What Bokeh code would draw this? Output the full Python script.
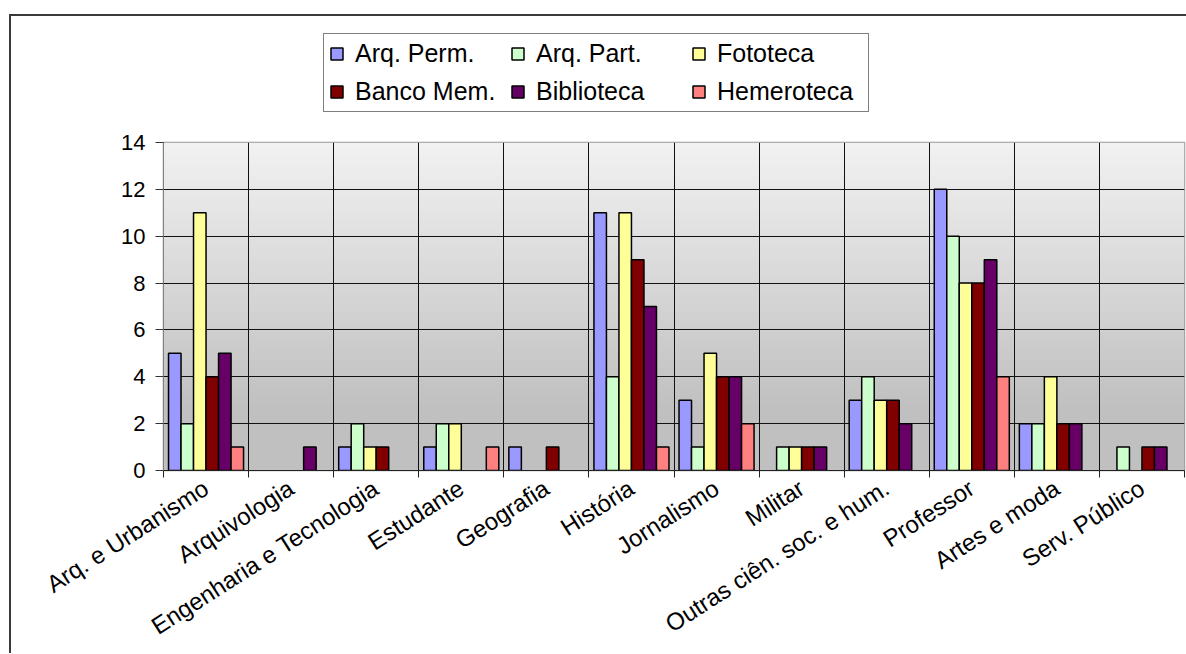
import numpy as np
from bokeh.plotting import figure
from bokeh.layouts import column
from bokeh.models import FixedTicker, Legend, LegendItem, Range1d, ColumnDataSource
from bokeh.embed import file_html
from bokeh.resources import INLINE

categories = ["Arq. e Urbanismo", "Arquivologia", "Engenharia e Tecnologia", "Estudante",
              "Geografia", "História", "Jornalismo", "Militar", "Outras ciên. soc. e hum.",
              "Professor", "Artes e moda", "Serv. Público"]
series_names = ["Arq. Perm.", "Arq. Part.", "Fototeca", "Banco Mem.", "Biblioteca", "Hemeroteca"]
arq_perm = [5, 0, 1, 1, 1, 11, 3, 0, 3, 12, 2, 0]
arq_part = [2, 0, 2, 2, 0, 4, 1, 1, 4, 10, 2, 1]
fototeca = [11, 0, 1, 2, 0, 11, 5, 1, 3, 8, 4, 0]
banco_mem = [4, 0, 1, 0, 1, 9, 4, 1, 3, 8, 2, 1]
biblioteca = [5, 1, 0, 0, 0, 7, 4, 1, 2, 9, 2, 1]
hemeroteca = [1, 0, 0, 1, 0, 1, 2, 0, 0, 4, 0, 0]
series_values = [arq_perm, arq_part, fototeca, banco_mem, biblioteca, hemeroteca]
colors = ["#9999ff", "#ccffcc", "#ffff99", "#800000", "#660066", "#ff8080"]
y_ticks = [0, 2, 4, 6, 8, 10, 12, 14]

FONT = "Liberation Sans"
ncat = len(categories)
ymax = y_ticks[-1]
bw = 0.147

# ---------- legend strip (top of chart) ----------
pl = figure(width=1175, height=110, output_backend="svg", toolbar_location=None,
            x_range=Range1d(0, 1), y_range=Range1d(0, 1),
            min_border_left=0, min_border_right=0, min_border_top=0, min_border_bottom=0)
pl.axis.visible = False
pl.grid.visible = False
pl.outline_line_color = None
pl.background_fill_color = "white"
pl.border_fill_color = "white"

items = []
for name, col in zip(series_names, colors):
    # legend swatch only: a single undrawn (NaN) bar carrying the series style
    rl = pl.vbar(x=[np.nan], top=[np.nan], width=bw, fill_color=col,
                 line_color="black", line_width=1.5)
    items.append(LegendItem(label=name, renderers=[rl]))

legend = Legend(items=items, orientation="horizontal", ncols=3, location=(160, 14),
                label_text_font=FONT, label_text_font_size="25px", label_text_color="black",
                glyph_width=15, glyph_height=15, label_standoff=11, label_width=146,
                label_height=28, spacing=9, padding=5, margin=0,
                border_line_color="black", border_line_width=1,
                background_fill_color="white", background_fill_alpha=1.0)
pl.add_layout(legend, "center")

# ---------- main chart ----------
p = figure(width=1175, height=527, output_backend="svg", toolbar_location=None,
           x_range=Range1d(0, ncat), y_range=Range1d(0, ymax),
           min_border_left=152, min_border_top=16, min_border_right=2, min_border_bottom=183)

n = 280
yy = np.linspace(0, ymax, n)
t = np.clip((yy - 2.5) / (ymax - 2.5), 0, 1)
g = (192 + t * (242 - 192)).astype(np.uint8)
img = np.empty((n, 1), dtype=np.uint32)
view = img.view(dtype=np.uint8).reshape((n, 1, 4))
view[..., 0] = g[:, None]
view[..., 1] = g[:, None]
view[..., 2] = g[:, None]
view[..., 3] = 255
p.image_rgba(image=[img], x=0, y=0, dw=ncat, dh=ymax, level="image")

for j, (name, vals, col) in enumerate(zip(series_names, series_values, colors)):
    xs = [i + 0.5 + (j - 2.5) * bw for i, v in enumerate(vals) if v > 0]
    tops = [v for v in vals if v > 0]
    src = ColumnDataSource(dict(x=xs, top=tops))
    p.vbar(x="x", top="top", bottom=0, width=bw, source=src,
           fill_color=col, line_color="black", line_width=1.5)

centers = [i + 0.5 for i in range(ncat)]
bounds = list(range(ncat + 1))
p.xaxis.ticker = FixedTicker(ticks=centers, minor_ticks=bounds)
p.xaxis.major_label_overrides = {c: lab for c, lab in zip(centers, categories)}
p.xaxis.major_label_orientation = 0.57
p.xaxis.major_tick_out = 0
p.xaxis.major_tick_in = 0
p.xaxis.minor_tick_out = 7
p.xaxis.minor_tick_in = 0
p.xaxis.minor_tick_line_color = "#222222"
p.xaxis.axis_line_color = "#222222"
p.xaxis.major_label_text_font = FONT
p.xaxis.major_label_text_font_size = "24px"
p.xaxis.major_label_text_color = "black"
p.xaxis.major_label_standoff = 8

p.yaxis.ticker = FixedTicker(ticks=y_ticks)
p.yaxis.major_tick_out = 8
p.yaxis.major_tick_in = 0
p.yaxis.minor_tick_line_color = None
p.yaxis.axis_line_color = "#808080"
p.yaxis.major_tick_line_color = "#333333"
p.yaxis.major_label_text_font = FONT
p.yaxis.major_label_text_font_size = "22px"
p.yaxis.major_label_text_color = "black"
p.yaxis.major_label_standoff = 10

p.xgrid.ticker = FixedTicker(ticks=bounds)
p.xgrid.grid_line_color = "#111111"
p.xgrid.grid_line_width = 1
p.ygrid.ticker = FixedTicker(ticks=y_ticks)
p.ygrid.grid_line_color = "#111111"
p.ygrid.grid_line_width = 1

p.outline_line_color = "#999999"
p.outline_line_width = 1.5
p.background_fill_color = "white"
p.border_fill_color = "white"

layout = column(pl, p, spacing=0)
layout.styles = {"border-left": "2px solid #3a3a3a", "border-top": "2px solid #3a3a3a",
                 "margin-left": "9px", "margin-top": "14px"}

open("out.html", "w").write(file_html(layout, INLINE))
